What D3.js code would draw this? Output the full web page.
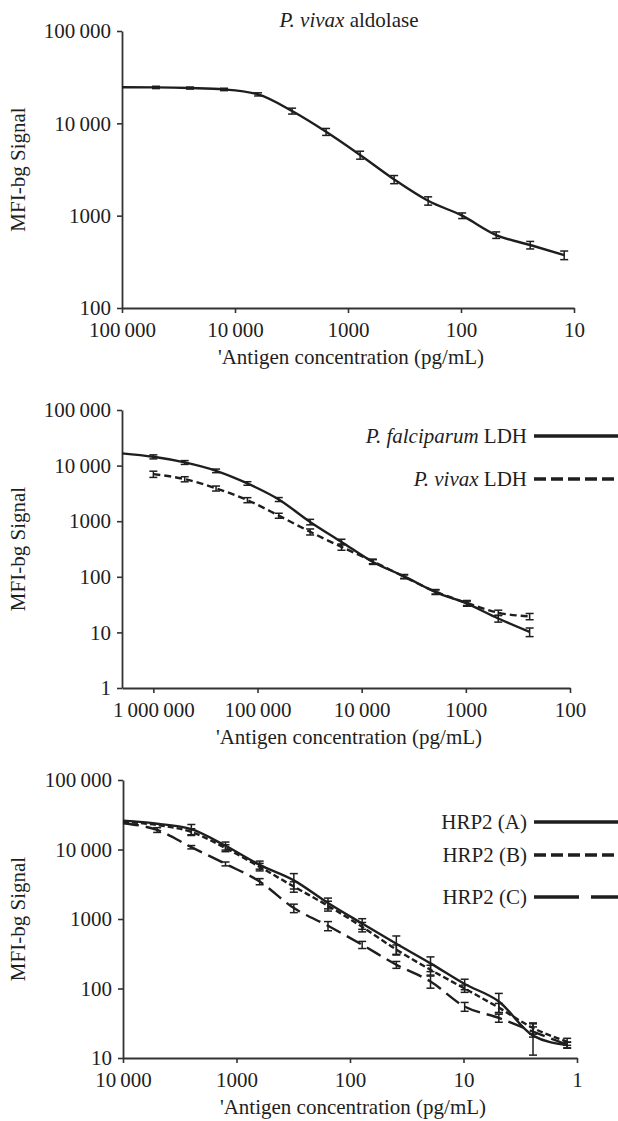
<!DOCTYPE html>
<html>
<head>
<meta charset="utf-8">
<script src="https://cdn.jsdelivr.net/npm/d3@7"></script>
<style>
  html, body { margin: 0; padding: 0; background: #fff; }
  svg { display: block; }
</style>
</head>
<body>
<svg id="chart" width="618" height="1121"></svg>
<script>
// ---------- DATA ----------
// Panel 1: P. vivax aldolase
const conc1 = [100000, 50000, 25000, 12500, 6250, 3125, 1562.5, 781.25, 390.6, 195.3, 97.66, 48.83, 24.41, 12.21];
const aldolase = [24600, 24500, 24100, 23300, 20600, 13600, 8100, 4540, 2470, 1450, 1000, 617, 481, 374];
const aldolaseSD = [null, 700, 600, 700, 800, 1000, 700, 450, 250, 150, 70, 50, 45, 40];
const xTicks1 = [100000, 10000, 1000, 100, 10];
const xTickLabels1 = ["100\u2009000", "10\u2009000", "1000", "100", "10"];
const yTicks1 = [100, 1000, 10000, 100000];
const yTickLabels1 = ["100", "1000", "10\u2009000", "100\u2009000"];

// Panel 2: LDH
const conc2 = [2000000, 1000000, 500000, 250000, 125000, 62500, 31250, 15625, 7812.5, 3906.25, 1953.1, 976.6, 488.3, 244.1];
const pfLDH = [16600, 14400, 11400, 8060, 4780, 2460, 970, 424, 185, 102, 53, 33, 17.8, 10.2];
const pfLDHSD = [null, 1200, 900, 600, 350, 200, 110, 50, 18, 8, 5, 3.5, 2.5, 1.8];
const pvLDH = [null, 7030, 5710, 3890, 2400, 1260, 645, 345, 190, 100, 54, 34, 22.6, 19.4];
const pvLDHSD = [null, 900, 600, 400, 250, 130, 80, 45, 18, 8, 5, 3.5, 2.5, 2.5];
const xTicks2 = [1000000, 100000, 10000, 1000, 100];
const xTickLabels2 = ["1\u2009000\u2009000", "100\u2009000", "10\u2009000", "1000", "100"];
const yTicks2 = [1, 10, 100, 1000, 10000, 100000];
const yTickLabels2 = ["1", "10", "100", "1000", "10\u2009000", "100\u2009000"];

// Panel 3: HRP2
const conc3 = [10000, 5000, 2500, 1250, 625, 312.5, 156.25, 78.13, 39.06, 19.53, 9.766, 4.883, 2.441, 1.221];
const hrp2A = [26000, 23500, 19600, 11300, 6010, 3600, 1700, 860, 440, 230, 116, 65, 21, 15.3];
const hrp2ASD = [null, null, 3300, 1500, 800, 900, 300, 150, 130, 55, 20, 20, 10, 1.5];
const hrp2B = [25000, 22500, 17900, 10500, 5620, 2930, 1550, 772, 363, 186, 100, 53, 27, 17.2];
const hrp2BSD = [null, null, 2000, 1200, 700, 500, 250, 120, 60, 30, 12, 8, 5, 2];
const hrp2C = [23900, 19100, 10800, 6210, 3460, 1435, 798, 426, 220, 126, 55, 37.7, 24, 15.5];
const hrp2CSD = [null, 1500, 600, 400, 350, 200, 120, 50, 25, 25, 8, 5, 4, 1.5];
const xTicks3 = [10000, 1000, 100, 10, 1];
const xTickLabels3 = ["10\u2009000", "1000", "100", "10", "1"];
const yTicks3 = [10, 100, 1000, 10000, 100000];
const yTickLabels3 = ["10", "100", "1000", "10\u2009000", "100\u2009000"];

const yLabel = "MFI-bg Signal";
const xLabel = "'Antigen concentration (pg/mL)";

// ---------- STYLE ----------
const FONT = "'Liberation Serif', 'Times New Roman', serif";
const FS = 21;
const INK = "#1e1e1e";

const svg = d3.select("#chart");
svg.append("rect").attr("width", 618).attr("height", 1121).attr("fill", "#fff");

function panel(cfg) {
  const x = d3.scaleLog().domain(cfg.xDomain).range(cfg.xRange);
  const y = d3.scaleLog().domain(cfg.yDomain).range(cfg.yRange);
  const g = svg.append("g");

  // axes
  const yAxis = d3.axisLeft(y).tickValues(cfg.yTicks)
    .tickFormat((d, i) => cfg.yTickLabels[i]).tickSize(5).tickSizeOuter(0).tickPadding(6);
  const gy = g.append("g").attr("transform", `translate(${cfg.xRange[0]},0)`).call(yAxis);
  const xAxis = d3.axisBottom(x).tickValues(cfg.xTicks)
    .tickFormat((d, i) => cfg.xTickLabels[i]).tickSize(5).tickSizeOuter(0).tickPadding(9);
  const gx = g.append("g").attr("transform", `translate(0,${cfg.yRange[0]})`).call(xAxis);
  [gx, gy].forEach(a => {
    a.selectAll("path.domain").attr("stroke", "#333").attr("stroke-width", 1.8);
    a.selectAll(".tick line").attr("stroke", "#333").attr("stroke-width", 1.6);
    a.selectAll(".tick text").attr("font-family", FONT).attr("font-size", FS).attr("fill", INK);
  });

  // axis titles
  const cx = (cfg.xRange[0] + cfg.xRange[1]) / 2;
  const cy = (cfg.yRange[0] + cfg.yRange[1]) / 2;
  g.append("text").attr("x", cx + 3).attr("y", cfg.yRange[0] + 56)
    .attr("text-anchor", "middle").attr("font-family", FONT).attr("font-size", FS).attr("fill", INK)
    .text(xLabel);
  g.append("text").attr("transform", `translate(25,${cy}) rotate(-90)`)
    .attr("text-anchor", "middle").attr("font-family", FONT).attr("font-size", FS).attr("fill", INK)
    .text(yLabel);

  // series
  cfg.series.forEach(s => {
    const pts = cfg.conc.map((c, i) => ({ c, v: s.values[i], sd: s.sd[i] }));
    const line = d3.line().defined(d => d.v != null)
      .x(d => x(d.c)).y(d => y(d.v)).curve(d3.curveMonotoneX);
    g.append("path").datum(pts).attr("d", line)
      .attr("fill", "none").attr("stroke", INK).attr("stroke-width", 2.4)
      .attr("stroke-dasharray", s.dash || null);
    const eb = g.append("g").attr("stroke", INK).attr("stroke-width", 1.5);
    pts.filter(d => d.v != null && d.sd != null && d.sd > 0).forEach(d => {
      const px = x(d.c);
      const y1 = y(d.v + d.sd);
      const y2 = y(Math.max(d.v - d.sd, d.v * 0.3));
      eb.append("line").attr("x1", px).attr("x2", px).attr("y1", y1).attr("y2", y2);
      eb.append("line").attr("x1", px - 4).attr("x2", px + 4).attr("y1", y1).attr("y2", y1);
      eb.append("line").attr("x1", px - 4).attr("x2", px + 4).attr("y1", y2).attr("y2", y2);
    });
  });

  // legend
  (cfg.legend || []).forEach(l => {
    const t = g.append("text").attr("x", 527).attr("y", l.y).attr("dy", "0.32em")
      .attr("text-anchor", "end").attr("font-family", FONT).attr("font-size", FS).attr("fill", INK);
    if (l.italic) t.append("tspan").attr("font-style", "italic").text(l.italic + " ");
    t.append("tspan").text(l.text);
    g.append("line").attr("x1", 534).attr("x2", 620).attr("y1", l.y).attr("y2", l.y)
      .attr("stroke", INK).attr("stroke-width", 3.6).attr("stroke-dasharray", l.dash || null);
  });
  return { x, y, g };
}

// Panel 1
panel({
  xDomain: [100000, 10], xRange: [122, 574],
  yDomain: [100, 100000], yRange: [308, 31],
  xTicks: xTicks1, xTickLabels: xTickLabels1, yTicks: yTicks1, yTickLabels: yTickLabels1,
  conc: conc1,
  series: [{ values: aldolase, sd: aldolaseSD }]
});
const title = svg.append("text").attr("x", 349).attr("y", 27).attr("text-anchor", "middle")
  .attr("font-family", FONT).attr("font-size", FS).attr("fill", INK);
title.append("tspan").attr("font-style", "italic").text("P. vivax");
title.append("tspan").text(" aldolase");

// Panel 2
panel({
  xDomain: [2000000, 100], xRange: [122, 570],
  yDomain: [1, 100000], yRange: [688, 410],
  xTicks: xTicks2, xTickLabels: xTickLabels2, yTicks: yTicks2, yTickLabels: yTickLabels2,
  conc: conc2,
  series: [
    { values: pfLDH, sd: pfLDHSD },
    { values: pvLDH, sd: pvLDHSD, dash: "7,4" }
  ],
  legend: [
    { y: 436, italic: "P. falciparum", text: "LDH" },
    { y: 479, italic: "P. vivax", text: "LDH", dash: "12,5" }
  ]
});

// Panel 3
panel({
  xDomain: [10000, 1], xRange: [123, 577],
  yDomain: [10, 100000], yRange: [1058, 780],
  xTicks: xTicks3, xTickLabels: xTickLabels3, yTicks: yTicks3, yTickLabels: yTickLabels3,
  conc: conc3,
  series: [
    { values: hrp2A, sd: hrp2ASD },
    { values: hrp2B, sd: hrp2BSD, dash: "6,3" },
    { values: hrp2C, sd: hrp2CSD, dash: "16,7" }
  ],
  legend: [
    { y: 822, text: "HRP2 (A)" },
    { y: 855, text: "HRP2 (B)", dash: "12,5" },
    { y: 897, text: "HRP2 (C)", dash: "45,12" }
  ]
});
</script>
</body>
</html>
